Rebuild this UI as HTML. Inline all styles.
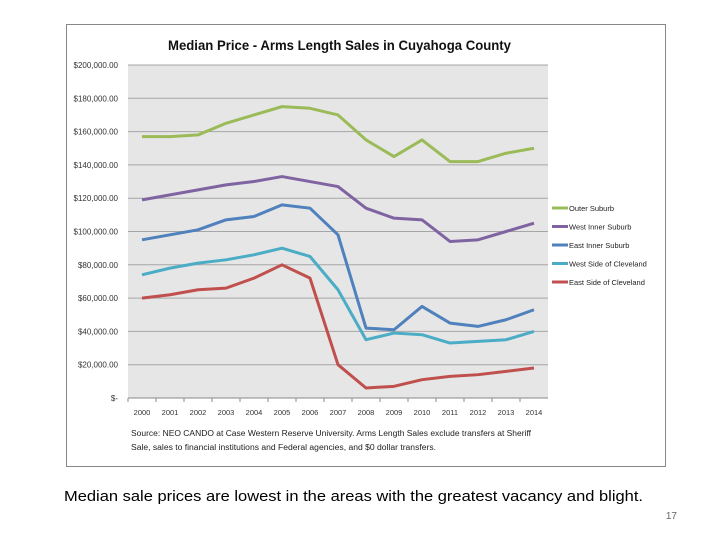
<!DOCTYPE html>
<html><head><meta charset="utf-8"><style>
body{margin:0;width:720px;height:540px;background:#fff;font-family:"Liberation Sans",sans-serif;overflow:hidden;position:relative}
</style></head><body>
<svg width="720" height="540" style="position:absolute;left:0;top:0">
<rect x="66.5" y="24.5" width="599" height="442" fill="#fff" stroke="#888"/>
<text x="168" y="50" textLength="343" lengthAdjust="spacingAndGlyphs" font-size="14" font-weight="bold" fill="#111">Median Price - Arms Length Sales in Cuyahoga County</text>
<rect x="128" y="65" width="420" height="333" fill="#e6e6e6"/>
<g id="grid"></g><g id="lines"></g><g id="legend"></g>
<text x="131" y="436" textLength="400" lengthAdjust="spacingAndGlyphs" font-size="8" fill="#222">Source:  NEO CANDO at Case Western Reserve University.  Arms Length Sales exclude transfers at Sheriff</text>
<text x="131" y="450" textLength="305" lengthAdjust="spacingAndGlyphs" font-size="8" fill="#222">Sale, sales to financial institutions and Federal agencies, and $0 dollar transfers.</text>
<text x="64" y="501" textLength="579" lengthAdjust="spacingAndGlyphs" font-size="15" fill="#000">Median sale prices are lowest in the areas with the greatest vacancy and blight.</text>
<text x="677" y="519" font-size="10" fill="#666" text-anchor="end">17</text>
</svg>
<script>
const years=["2000","2001","2002","2003","2004","2005","2006","2007","2008","2009","2010","2011","2012","2013","2014"];
const yTicks=[0,20000,40000,60000,80000,100000,120000,140000,160000,180000,200000];
const seriesNames=["Outer Suburb","West Inner Suburb","East Inner Suburb","West Side of Cleveland","East Side of Cleveland"];
const seriesColors=["#9bbb59","#8064a2","#4f81bd","#4bacc6","#c0504d"];
const outer=[157000,157000,158000,165000,170000,175000,174000,170000,155000,145000,155000,142000,142000,147000,150000];
const westInner=[119000,122000,125000,128000,130000,133000,130000,127000,114000,108000,107000,94000,95000,100000,105000];
const eastInner=[95000,98000,101000,107000,109000,116000,114000,98000,42000,41000,55000,45000,43000,47000,53000];
const westSide=[74000,78000,81000,83000,86000,90000,85000,65000,35000,39000,38000,33000,34000,35000,40000];
const eastSide=[60000,62000,65000,66000,72000,80000,72000,20000,6000,7000,11000,13000,14000,16000,18000];
const allSeries=[outer,westInner,eastInner,westSide,eastSide];
const NS="http://www.w3.org/2000/svg";
const x0=128,x1=548,yT=65,yB=398,yMax=200000;
const bw=(x1-x0)/years.length;
function xs(i){return x0+bw*(i+0.5);}
function ys(v){return yB-(v/yMax)*(yB-yT);}
function mk(t,a){const e=document.createElementNS(NS,t);for(const k in a)e.setAttribute(k,a[k]);return e;}
const g=document.getElementById('grid');
yTicks.forEach(v=>{
 if(v>0){const l=mk('line',{x1:x0,x2:x1,y1:ys(v),y2:ys(v),stroke:'#a6a6a6','stroke-width':1});
 
 g.appendChild(l);}
 const t=mk('text',{x:118,y:ys(v)+3,'text-anchor':'end','font-size':'8',fill:'#333'});
 t.textContent=v===0?'$-':'$'+v.toLocaleString('en-US')+'.00';
 
 g.appendChild(t);
});
const ax=mk('line',{x1:x0,x2:x1,y1:yB,y2:yB,stroke:'#888'});

g.appendChild(ax);
years.forEach((y,i)=>{
 const tk=mk('line',{x1:x0+bw*i,x2:x0+bw*i,y1:yB,y2:yB+4,stroke:'#888'});
 
 g.appendChild(tk);
 const t=mk('text',{x:xs(i),y:yB+17,'text-anchor':'middle','font-size':'7.5',fill:'#333'});
 t.textContent=y;
 
 g.appendChild(t);
});
const lg=document.getElementById('lines'),leg=document.getElementById('legend');
allSeries.forEach((s,k)=>{
 const p=mk('polyline',{points:s.map((v,i)=>xs(i)+','+ys(v)).join(' '),fill:'none',stroke:seriesColors[k],'stroke-width':3,'stroke-linejoin':'round'});
 
 lg.appendChild(p);
 const ly=208+k*18.5;
 const ll=mk('line',{x1:552,x2:568,y1:ly,y2:ly,stroke:seriesColors[k],'stroke-width':3});
 
 leg.appendChild(ll);
 const lt=mk('text',{x:569,y:ly+3,'font-size':'7.5',fill:'#222'});
 lt.textContent=seriesNames[k];
 
 leg.appendChild(lt);
});
</script>
</body></html>
